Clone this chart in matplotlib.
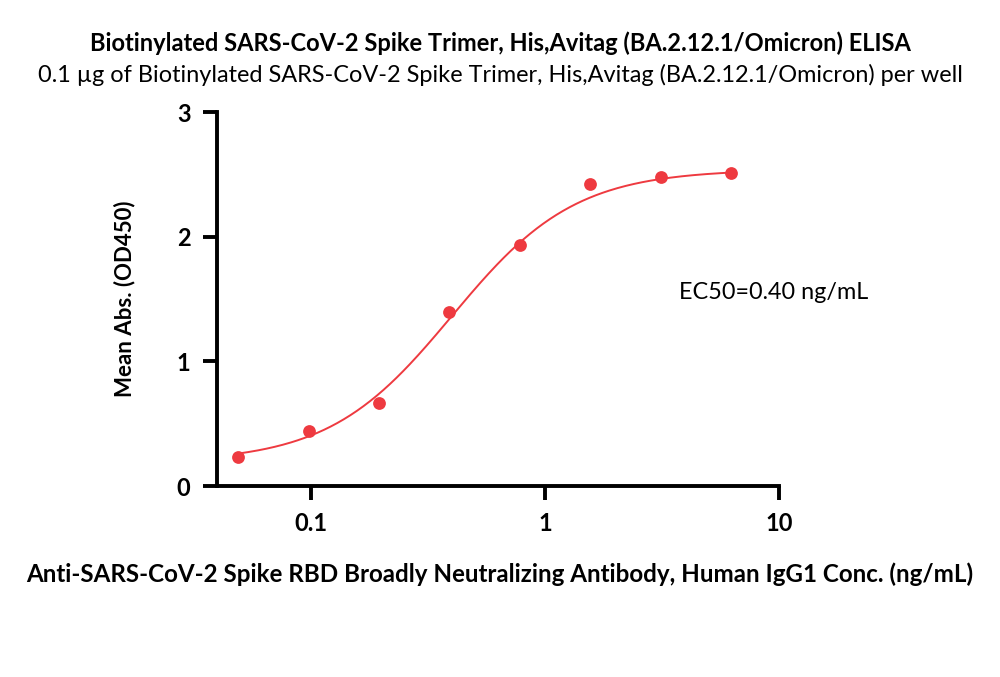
import numpy as np
import matplotlib.pyplot as plt

plt.rcParams['font.family'] = ['Lato', 'DejaVu Sans']

# measured points
conc = [0.0488, 0.0977, 0.195, 0.39, 0.78, 1.5625, 3.125, 6.25]
od = [0.23, 0.44, 0.67, 1.40, 1.93, 2.42, 2.48, 2.51]

# 4PL fit parameters
bottom, top, ec50, hill = 0.19, 2.54, 0.40, 1.65

red = "#EE3A40"

fig = plt.figure(figsize=(10, 6.77), dpi=100)
ax = fig.add_axes([0.217, 0.282, 0.562, 0.5524])

xs = np.logspace(np.log10(conc[0]), np.log10(conc[-1]), 300)
ax.plot(xs, bottom + (top - bottom) / (1 + (ec50 / xs) ** hill), color=red, lw=1.4)
ax.plot(conc, od, 'o', color=red, ms=9.2, mec='none')

ax.set_xscale('log')
ax.set_xlim(0.0396, 10)
ax.set_ylim(0, 3)
ax.set_xticks([0.1, 1, 10])
ax.set_xticklabels(['0.1', '1', '10'])
ax.set_yticks([0, 1, 2, 3])
ax.minorticks_off()
for s in ['top', 'right']:
    ax.spines[s].set_visible(False)
for s in ['left', 'bottom']:
    ax.spines[s].set_linewidth(2.8)
ax.tick_params(width=2.8, length=10, labelsize=17, pad=9)
for lab in ax.get_xticklabels() + ax.get_yticklabels():
    lab.set_fontweight('bold')

ax.set_ylabel('Mean Abs. (OD450)', fontsize=16, fontweight='bold', labelpad=30)
fig.text(0.5, 0.152, 'Anti-SARS-CoV-2 Spike RBD Broadly Neutralizing Antibody, Human IgG1 Conc. (ng/mL)',
         ha='center', va='center', fontsize=17.4, fontweight='bold')
ax.text(3.75, 1.55, 'EC50=0.40 ng/mL', fontsize=16.8, ha='left', va='center')

fig.text(0.5, 0.936, 'Biotinylated SARS-CoV-2 Spike Trimer, His,Avitag (BA.2.12.1/Omicron) ELISA',
         ha='center', va='center', fontsize=17, fontweight='bold')
fig.text(0.5, 0.889, '0.1 µg of Biotinylated SARS-CoV-2 Spike Trimer, His,Avitag (BA.2.12.1/Omicron) per well',
         ha='center', va='center', fontsize=16.9)

plt.savefig('out.png', dpi=100)
